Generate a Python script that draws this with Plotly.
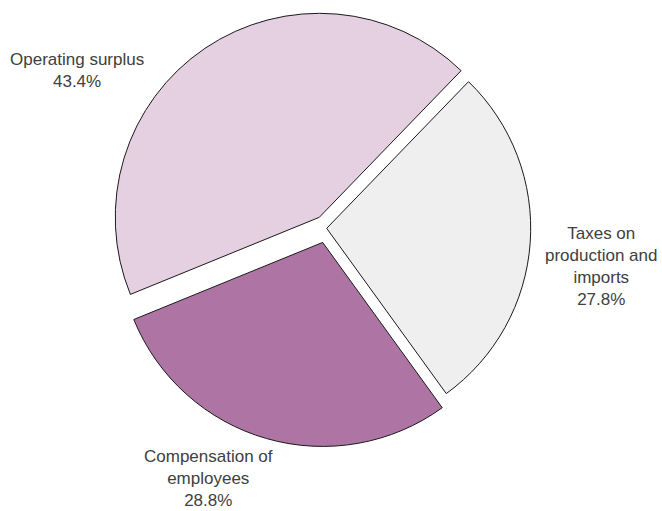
import plotly.graph_objects as go

labels = ["Operating surplus", "Taxes on production and imports", "Compensation of employees"]
label_lines = ["Operating surplus", "Taxes on<br>production and<br>imports", "Compensation of<br>employees"]
values = [43.4, 27.8, 28.8]
colors = ["#E5D0E2", "#EFEFEF", "#AE74A3"]
pulls = [0.065, 0.0, 0.072]

W, H = 662, 511

# label anchor positions in pixels (x, y centre of text block)
label_pos = [(77, 70), (601, 266), (208, 478)]

cx, cy, half_h, half_w = 326.7, 228.3, 218.7, 250.0

fig = go.Figure(go.Pie(
    labels=labels,
    values=values,
    sort=False,
    direction="clockwise",
    rotation=-112.2,
    pull=pulls,
    marker=dict(colors=colors, line=dict(color="#1a1a1a", width=1)),
    textinfo="none",
    hoverinfo="label+percent",
    domain=dict(x=[(cx - half_w) / W, (cx + half_w) / W],
                y=[1 - (cy + half_h) / H, 1 - (cy - half_h) / H]),
))

for lab, val, (px, py) in zip(label_lines, values, label_pos):
    fig.add_annotation(
        text=f"{lab}<br>{val:.1f}%",
        x=px / W, y=1 - py / H, xref="paper", yref="paper",
        xanchor="center", yanchor="middle", showarrow=False,
        align="center",
        font=dict(family="Liberation Sans, Arial, sans-serif", size=17, color="#404040"),
    )

fig.update_layout(
    width=W, height=H,
    margin=dict(l=0, r=0, t=0, b=0),
    showlegend=False,
    paper_bgcolor="white",
    plot_bgcolor="white",
)

fig.write_html(
    "out.html",
    config={"displayModeBar": False},
    post_script="document.body.style.margin='0';document.body.style.overflow='hidden';",
)
